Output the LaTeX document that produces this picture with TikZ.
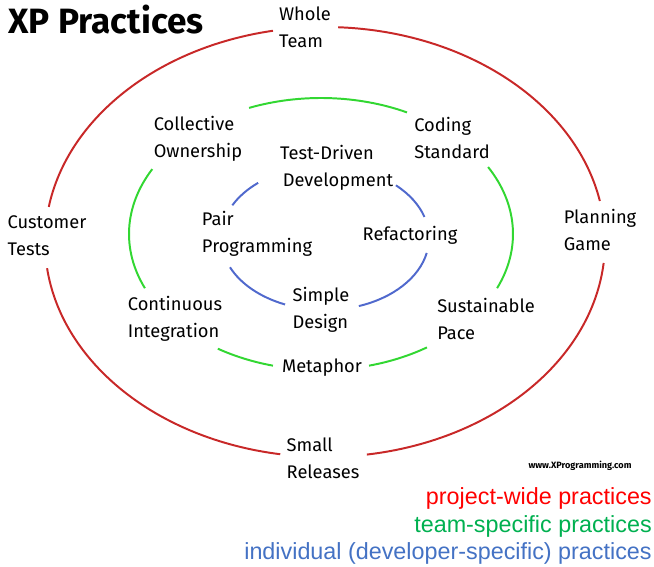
\documentclass[tikz,border=0pt]{standalone}
\usepackage{fontspec}
\setmainfont{Fira Sans}
\newfontfamily\legendfont{Liberation Sans}
\usepackage{tikz}

\definecolor{projred}{RGB}{200,40,40}
\definecolor{teamgreen}{RGB}{50,215,50}
\definecolor{devblue}{RGB}{80,105,205}
\definecolor{legred}{RGB}{255,0,0}
\definecolor{leggreen}{RGB}{0,176,80}
\definecolor{legblue}{RGB}{68,114,196}

\begin{document}
\begin{tikzpicture}[
  x=0.025cm, y=0.025cm,
  ring/.style={line width=1.4pt},
  prac/.style={align=left,inner sep=0pt,font=\fontsize{13}{19}\selectfont},
  legend/.style={anchor=east,inner sep=0pt,font=\legendfont\fontsize{16.6}{20}\selectfont}
]
\useasboundingbox (0,0) rectangle (654,567);

% rings
\foreach \a/\b in {11/87.3, 100.7/170.6, 187/260.8, 278.6/354.4}
  \draw[ring,projred] (325,325) ++(\a:280 and 215) arc[start angle=\a, end angle=\b, x radius=280, y radius=215];
\foreach \a/\b in {63.4/112, 151.5/203.5, 237.5/255.5, 284.5/303.5, 336.5/389.5}
  \draw[ring,teamgreen] (321,333) ++(\a:192 and 136) arc[start angle=\a, end angle=\b, x radius=192, y radius=136];
\foreach \a/\b in {17/47, 130/153, 204/247.4, 289/348}
  \draw[ring,devblue] (325,329) ++(\a:104 and 72) arc[start angle=\a, end angle=\b, x radius=104, y radius=72];

% practices
\node[anchor=west,inner sep=0pt,font=\bfseries\fontsize{25}{28}\selectfont] (title) at (8,547) {XP Practices};
\node[prac] (whole) at (305,540) {Whole\\Team};
\node[prac] (collective) at (198,428) {Collective\\Ownership};
\node[prac] (coding) at (452,429) {Coding\\Standard};
\node[prac,align=center] (tdd) at (327,399) {Test-Driven\\\hspace*{1.2em}Development};
\node[prac] (customer) at (47,331) {Customer\\Tests};
\node[prac] (planning) at (600,337) {Planning\\Game};
\node[prac] (pair) at (257,333) {Pair\\Programming};
\node[prac] (refactoring) at (410,332) {Refactoring};
\node[prac] (continuous) at (175,248) {Continuous\\Integration};
\node[prac] (simple) at (321,257) {Simple\\Design};
\node[prac] (sustainable) at (486,248) {Sustainable\\Pace};
\node[prac] (metaphor) at (322,199) {Metaphor};
\node[prac] (small) at (323,109) {Small\\Releases};
\node[inner sep=0pt,font=\bfseries\fontsize{6.5}{8}\selectfont] (url) at (580,101) {www.XProgramming.com};

% legend
\node[legend,text=legred] (legproj) at (652,69) {project-wide practices};
\node[legend,text=leggreen] (legteam) at (652,41) {team-specific practices};
\node[legend,text=legblue] (legdev) at (652,14) {individual (developer-specific) practices};
\end{tikzpicture}
\end{document}
